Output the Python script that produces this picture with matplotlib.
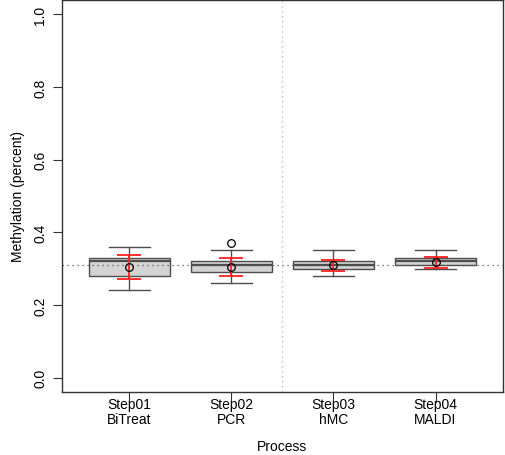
import matplotlib
matplotlib.use("Agg")
import matplotlib.pyplot as plt

plt.rcParams["font.family"] = ["Liberation Sans", "DejaVu Sans"]

steps = ["Step01\nBiTreat", "Step02\nPCR", "Step03\nhMC", "Step04\nMALDI"]
whisker_low = [0.24, 0.26, 0.28, 0.30]
q1 = [0.28, 0.29, 0.30, 0.31]
median = [0.32, 0.31, 0.31, 0.32]
q3 = [0.33, 0.32, 0.32, 0.33]
whisker_high = [0.36, 0.35, 0.35, 0.35]
outliers = [[], [0.37], [], []]
means = [0.305, 0.304, 0.310, 0.317]
err_low = [0.272, 0.281, 0.293, 0.302]
err_high = [0.337, 0.328, 0.324, 0.331]
reference_level = 0.31

stats = []
for i in range(len(steps)):
    stats.append({
        "whislo": whisker_low[i], "q1": q1[i], "med": median[i],
        "q3": q3[i], "whishi": whisker_high[i], "fliers": outliers[i],
    })

fig = plt.figure(figsize=(5.05, 4.56), dpi=100)
ax = fig.add_axes([0.1228, 0.138, 0.873, 0.860])

positions = list(range(1, len(steps) + 1))

edge = "#4d4d4d"
ax.bxp(
    stats, positions=positions, widths=0.8, patch_artist=True,
    boxprops=dict(facecolor="#d3d3d3", edgecolor=edge, linewidth=1.0),
    medianprops=dict(color=edge, linewidth=1.6),
    whiskerprops=dict(color=edge, linewidth=1.0),
    capprops=dict(color=edge, linewidth=1.0),
    capwidths=0.4,
    flierprops=dict(marker="o", markerfacecolor="none", markeredgecolor="black",
                    markersize=5.5, markeredgewidth=0.9),
    zorder=2,
)

# reference lines sit on top of the boxes
ax.axhline(reference_level, color="#555555", linestyle=(0, (1, 3)), linewidth=0.9, zorder=2.5)
ax.axvline(2.5, color="#f4a0a0", linestyle=(0, (1, 3)), linewidth=0.9, zorder=2.5)

yerr = [[m - lo for m, lo in zip(means, err_low)],
        [hi - m for m, hi in zip(means, err_high)]]
ax.errorbar(positions, means, yerr=yerr, fmt="none", ecolor="#ff2020",
            elinewidth=1.3, capsize=8.5, capthick=1.3, zorder=3)
ax.plot(positions, means, "o", markerfacecolor="none", markeredgecolor="black",
        markersize=5.5, markeredgewidth=0.9, zorder=4)

ax.set_xlim(0.34, 4.66)
ax.set_ylim(-0.04, 1.04)
ax.set_xticks(positions)
ax.set_xticklabels(steps, fontsize=10, linespacing=1.1)
ax.set_yticks([0.0, 0.2, 0.4, 0.6, 0.8, 1.0])
ax.set_yticklabels(["0.0", "0.2", "0.4", "0.6", "0.8", "1.0"], fontsize=10,
                   rotation=90, va="center")
ax.tick_params(axis="x", length=7.5, pad=-4, color="#333333")
ax.tick_params(axis="y", length=6.5, pad=4, color="#333333")
for spine in ax.spines.values():
    spine.set_color("#333333")
    spine.set_linewidth(1.0)

ax.set_xlabel("Process", fontsize=10, labelpad=9)
ax.set_ylabel("Methylation (percent)", fontsize=10, labelpad=6)

fig.savefig("out.png", dpi=100)
